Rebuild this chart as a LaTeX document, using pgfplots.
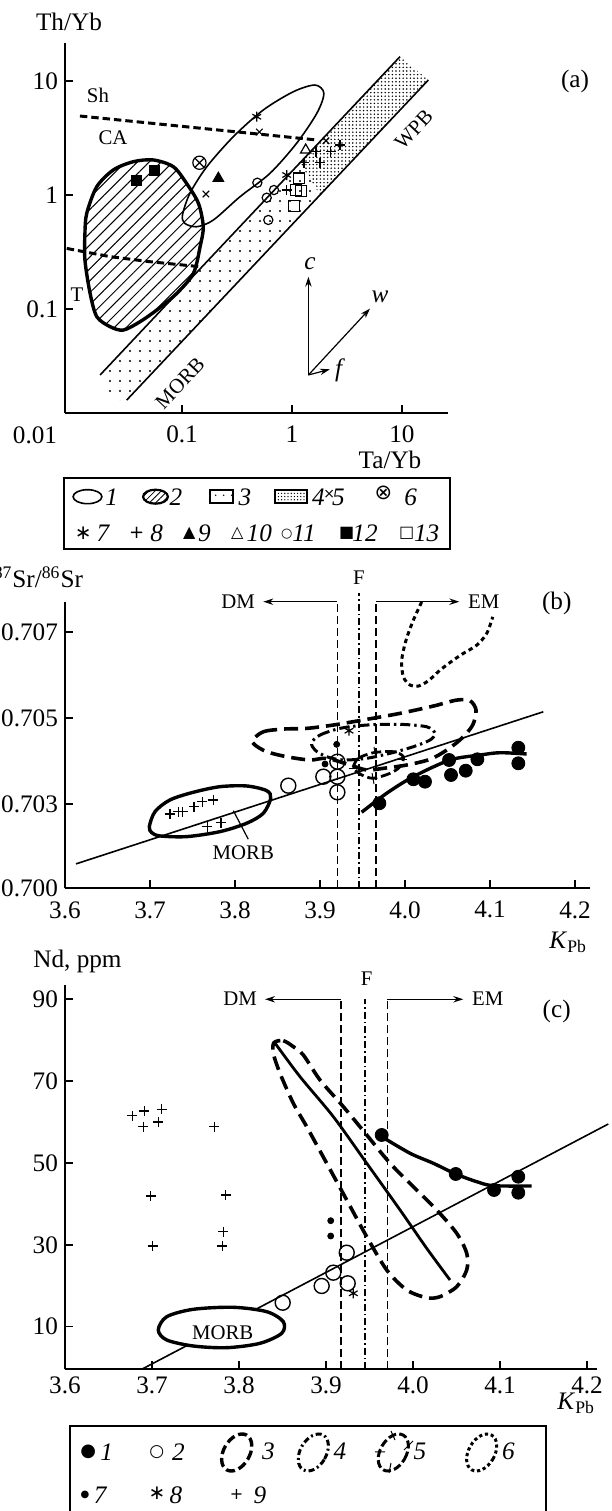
\documentclass[border=0pt]{standalone}
\usepackage{fontspec}
\setmainfont{Liberation Serif}
\newfontfamily\sym{DejaVu Sans}
\usepackage{pgfplots}
\pgfplotsset{compat=1.18}
\usetikzlibrary{patterns.meta,arrows.meta}
\tikzset{
 thickdash/.style={line width=1.8pt, dash pattern=on 7pt off 3.5pt},
 dashdotb/.style={line width=1.5pt, dash pattern=on 5pt off 2pt on 1.2pt off 2pt},
 dotb/.style={line width=1.5pt, dash pattern=on 2.2pt off 1.8pt},
 vdash/.style={line width=0.6pt, dash pattern=on 4pt off 2pt},
 vdashdot/.style={line width=0.6pt, dash pattern=on 3.5pt off 1.5pt on 0.8pt off 1.5pt},
 arr/.style={line width=0.6pt, -{Stealth[length=5pt,width=3.2pt]}},
 ann/.style={font=\fontsize{10.4}{12}\selectfont},
}
\pgfplotsset{
  myax/.style={scale only axis, anchor=south west, axis x line*=bottom, axis y line*=left,
    tick align=inside, major tick length=4pt, minor tick length=0pt, clip=false,
    axis line style={line width=0.9pt}, every tick/.style={line width=0.8pt, black},
    tick label style={font=\fontsize{12.6}{14}\selectfont},
    /pgf/number format/assume math mode=true},
}
\begin{document}
\begin{tikzpicture}[font=\fontsize{12.6}{14}\selectfont]
\useasboundingbox (0,0) rectangle (305.5pt,755.5pt);

% ---------------- panel (a)
\begin{axis}[myax, at={(32.5pt,549pt)}, width=191.5pt, height=185pt,
  xmode=log, ymode=log, xmin=0.00863, xmax=26.2, ymin=0.01225, ymax=21.55,
  xtick={0.1,1,10}, xticklabels={0.1,1,10}, ytick={0.1,1,10}, yticklabels={0.1,1,10},
  xticklabel style={yshift=-3pt}]
\addplot[draw=none, pattern={Dots[distance=5pt,radius=0.55pt]}] coordinates {(0.0185,0.0264)(1.18,1.92)(1.80,1.0)(0.0314,0.0159)(0.0235,0.0159)};
\addplot[draw=none, pattern={Dots[distance=1.8pt,radius=0.42pt]}] coordinates {(1.18,1.92)(9.59,16.35)(17.35,10.2)(1.80,1.0)};
\addplot[line width=0.8pt] coordinates {(0.018,0.0264)(9.59,16.35)};
\addplot[line width=0.8pt] coordinates {(0.0314,0.0159)(17.35,10.2)};
\addplot[line width=1.7pt, smooth cycle, pattern={Lines[angle=45,distance=4.2pt,line width=0.5pt]}] coordinates {
(0.0136,0.69)(0.01676,1.18)(0.02377,1.66)(0.0361,1.96)(0.0549,2.03)(0.0834,1.77)(0.110,1.265)(0.141,0.845)(0.156,0.527)(0.146,0.352)(0.127,0.206)(0.0895,0.137)(0.0589,0.098)(0.0415,0.0774)(0.0293,0.0654)(0.0222,0.070)(0.0168,0.0857)(0.0146,0.137)(0.0131,0.269)(0.0131,0.461)};
\addplot[line width=0.8pt, smooth cycle] coordinates {
(0.101,0.668)(0.118,1.035)(0.168,1.77)(0.293,3.25)(0.548,5.57)(1.03,8.06)(1.62,9.22)(1.95,7.8)(1.68,5.2)(1.10,2.84)(0.631,1.55)(0.337,0.967)(0.193,0.604)(0.136,0.527)(0.106,0.564)};
\addplot[line width=1.5pt, dash pattern=on 3.7pt off 2pt] coordinates {(0.0118,4.93)(1.68,3.04)};
\addplot[line width=1.5pt, dash pattern=on 3.7pt off 2pt] coordinates {(0.00895,0.340)(0.0222,0.288)(0.0512,0.260)(0.146,0.235)};
% points
\addplot[only marks, mark=square*, mark size=2.5pt] coordinates {(0.0382,1.35)(0.0557,1.63)};
\addplot[only marks, line width=0.6pt, mark=otimes, mark size=3.3pt] coordinates {(0.144,1.92)};
\addplot[only marks, mark=triangle*, mark size=3.2pt] coordinates {(0.214,1.40)};
\addplot[only marks, line width=0.6pt, mark=x, mark size=2.3pt] coordinates {(0.165,1.02)(0.505,3.57)(2.038,2.99)};
\addplot[only marks, line width=0.6pt, mark=asterisk, mark size=2.5pt] coordinates {(0.478,4.86)(0.895,1.498)};
\addplot[only marks, line width=0.6pt, mark=+, mark size=2.5pt] coordinates {(1.652,2.40)(2.249,2.40)(1.285,1.92)(1.797,1.92)(2.73,2.746)(0.895,1.106)};
\addplot[only marks, line width=0.6pt, mark=triangle, mark size=3pt] coordinates {(1.332,2.48)};
\addplot[only marks, line width=0.6pt, mark=o, mark size=2.3pt] coordinates {(0.484,1.282)(0.589,0.947)(0.686,1.106)(0.609,0.604)};
\addplot[only marks, line width=0.6pt, mark=square, mark size=2.7pt, mark options={fill=white}] coordinates {(1.158,1.401)(1.087,1.106)(1.207,1.09)(1.049,0.801)};
% vectors
\draw[arr] (axis cs:1.41,0.0264) -- (axis cs:1.41,0.192);
\draw[arr] (axis cs:1.41,0.0264) -- (axis cs:5.12,0.101);
\draw[arr] (axis cs:1.41,0.0264) -- (axis cs:2.21,0.0296);
\node at (axis cs:1.457,0.252) {\textit{c}};
\node at (axis cs:6.3,0.128) {\textit{w}};
\node at (axis cs:2.73,0.0292) {\textit{f}};
\node[ann] at (axis cs:0.0172,7.54) {Sh};
\node[ann] at (axis cs:0.0236,3.16) {CA};
\node[ann] at (axis cs:0.0111,0.1327) {T};
\node[ann, rotate=46.7] at (axis cs:12.8,3.75) {WPB};
\node[ann, rotate=46.7] at (axis cs:0.0959,0.0224) {MORB};
\end{axis}

% ---------------- panel (b)
\begin{axis}[myax, at={(32.5pt,311.35pt)}, width=262.5pt, height=143.3pt,
  xmin=3.6, xmax=4.2176, ymin=0.70105, ymax=0.7077,
  xtick={3.6,3.7,3.8,3.9,4.0,4.1,4.2}, xticklabels={3.6,3.7,3.8,3.9,4.0,4.1,4.2},
  ytick={0.703,0.705,0.707}, yticklabels={0.703,0.705,0.707},
  extra y ticks={0.70105}, extra y tick labels={0.700}, scaled y ticks=false,
  xticklabel style={yshift=-3pt}]
\addplot[vdash] coordinates {(3.9204,0.70105)(3.9204,0.7077)};
\addplot[vdashdot] coordinates {(3.9459,0.70105)(3.9459,0.7079)};
\addplot[vdash] coordinates {(3.9659,0.70105)(3.9659,0.7077)};
\addplot[arr] coordinates {(3.9204,0.7077)(3.8333,0.7077)};
\addplot[arr] coordinates {(3.9659,0.7077)(4.0639,0.7077)};
\addplot[line width=0.8pt] coordinates {(3.6129,0.701616)(4.1627,0.705146)};
\addplot[line width=1.7pt, smooth cycle] coordinates {
(3.6992,0.702481)(3.7059,0.702829)(3.7235,0.703100)(3.7509,0.703278)(3.7824,0.703408)(3.8138,0.703424)(3.8373,0.703315)(3.8420,0.703139)(3.8333,0.702791)(3.8138,0.70256)(3.7824,0.702365)(3.7431,0.702249)(3.7118,0.702265)(3.7020,0.702342)};
\addplot[dotb, smooth] coordinates {
(4.0196,0.707695)(4.0098,0.707271)(4.0012,0.706808)(3.9961,0.706344)(3.9980,0.705957)(4.0059,0.705765)(4.0156,0.705742)(4.0274,0.705864)(4.0412,0.706112)(4.0568,0.706344)(4.0686,0.7065)(4.0844,0.706692)(4.0961,0.706963)(4.1032,0.707348)};
\addplot[thickdash, smooth cycle] coordinates {
(3.8208,0.70449)(3.8333,0.704683)(3.8568,0.704745)(3.8844,0.704761)(3.9156,0.704838)(3.9549,0.70497)(3.9941,0.705109)(4.0333,0.705278)(4.0608,0.705417)(4.0765,0.705401)(4.0835,0.705185)(4.0796,0.704838)(4.0667,0.70453)(4.0491,0.704258)(4.0294,0.704043)(4.0020,0.703911)(3.9745,0.703834)(3.9549,0.703795)(3.9353,0.703911)(3.9079,0.704066)(3.8882,0.704027)(3.8608,0.704103)(3.8373,0.704219)(3.8235,0.704374)};
\addplot[dashdotb, smooth cycle] coordinates {
(3.8902,0.704428)(3.9,0.704606)(3.9235,0.704761)(3.9549,0.704838)(3.9941,0.704854)(4.0255,0.704798)(4.0353,0.704645)(4.0294,0.70449)(4.0098,0.704335)(3.9824,0.704182)(3.9549,0.704066)(3.9274,0.704027)(3.9079,0.704103)(3.8941,0.704258)};
\addplot[line width=1.4pt, dash pattern=on 5pt off 2pt, smooth cycle] coordinates {
(3.9392,0.703871)(3.9451,0.704066)(3.9627,0.704196)(3.9862,0.704219)(3.9980,0.704103)(3.9941,0.703871)(3.9824,0.703718)(3.9627,0.703603)(3.9491,0.703679)(3.9412,0.703795)};
\addplot[line width=0.5pt] coordinates {(3.9635,0.704328)(3.9659,0.704073)};
\addplot[line width=0.5pt] coordinates {(3.9612,0.703725)(3.9635,0.70347)};
\addplot[line width=0.5pt] coordinates {(3.9906,0.704027)(4.0024,0.704027)};
\addplot[line width=0.5pt] coordinates {(3.9341,0.703841)(3.9447,0.703841)};
\addplot[line width=1.7pt, smooth] coordinates {
(3.9490,0.702815)(3.9784,0.703255)(4.0098,0.70364)(4.0529,0.704027)(4.0882,0.704142)(4.1118,0.704196)(4.1431,0.704166)};
\addplot[line width=0.6pt] coordinates {(3.798,0.702852)(3.8156,0.702189)};
\node[ann] at (axis cs:3.8098,0.701878) {MORB};
% points
\addplot[only marks, line width=0.6pt, mark=+, mark size=2.5pt] coordinates {
(3.7235,0.702775)(3.7333,0.702829)(3.7385,0.702829)(3.7518,0.702944)(3.7615,0.70306)(3.7745,0.7031)(3.7674,0.702481)(3.7835,0.702574)};
\addplot[only marks, line width=0.7pt, mark=o, mark size=3.75pt, mark options={fill=white}] coordinates {
(3.8627,0.703431)(3.9204,0.703987)(3.9039,0.70364)(3.9204,0.70364)(3.9204,0.703278)};
\addplot[only marks, mark=*, mark size=1.5pt] coordinates {(3.9196,0.70439)(3.9059,0.703934)};
\addplot[only marks, line width=0.6pt, mark=asterisk, mark size=2.5pt] coordinates {(3.9341,0.704706)};
\addplot[only marks, mark=*, mark size=3.25pt] coordinates {
(3.9698,0.703023)(4.0098,0.703579)(4.0235,0.703524)(4.0518,0.704027)(4.0541,0.703679)(4.0714,0.703779)(4.0851,0.704043)(4.1333,0.704312)(4.1333,0.70395)};
\end{axis}

% ---------------- panel (c)
\begin{axis}[myax, at={(32.5pt,70.85pt)}, width=265.85pt, height=192.15pt,
  xmin=3.6, xmax=4.2111, ymin=-0.41, ymax=93.49,
  xtick={3.6,3.7,3.8,3.9,4.0,4.1,4.2}, xticklabels={3.6,3.7,3.8,3.9,4.0,4.1,4.2},
  ytick={10,30,50,70,90}, yticklabels={10,30,50,70,90}]
\addplot[vdash] coordinates {(3.9172,-0.41)(3.9172,90)};
\addplot[vdashdot] coordinates {(3.9448,-0.41)(3.9448,90)};
\addplot[vdash] coordinates {(3.9705,-0.41)(3.9705,90)};
\addplot[arr] coordinates {(3.9172,90)(3.8299,90)};
\addplot[arr] coordinates {(3.9705,90)(4.0578,90)};
\addplot[line width=0.8pt] coordinates {(3.6882,-0.41)(4.2245,59.53)};
\addplot[line width=1.7pt, smooth cycle, fill=white] coordinates {
(3.7072,9.19)(3.7169,12.44)(3.7475,14.25)(3.7934,14.74)(3.8318,13.67)(3.8509,11.22)(3.8491,8.39)(3.8241,5.94)(3.7859,4.87)(3.7475,5.28)(3.7169,6.75)};
\node[ann] at (axis cs:3.7813,8.53) {MORB};
\addplot[thickdash, smooth cycle] coordinates {
(3.8402,79.4)(3.8509,79.88)(3.8624,78.42)(3.8739,76.39)(3.8931,70.28)(3.9199,63.76)(3.9468,56.84)(3.9736,49.93)(4.0003,44.21)(4.0272,38.52)(4.0502,32.82)(4.0617,27.94)(4.0617,23.85)(4.0502,19.77)(4.0310,17.33)(4.0157,17.09)(3.9928,18.97)(3.9698,23.85)(3.9468,31.99)(3.9238,40.96)(3.9008,49.93)(3.8778,58.87)(3.8624,64.59)(3.8471,71.92)(3.8394,76.81)};
\addplot[line width=1.4pt, smooth] coordinates {
(3.8402,79.64)(3.8701,71.09)(3.9084,61.31)(3.9468,49.93)(3.9851,38.52)(4.0157,29.16)(4.0425,21.41)};
\addplot[line width=1.7pt, smooth] coordinates {
(3.9640,56.43)(3.9966,52.37)(4.0233,49.93)(4.0491,47.31)(4.0732,45.43)(4.0923,44.45)(4.1364,44.38)};
\addplot[only marks, line width=0.6pt, mark=+, mark size=2.5pt] coordinates {
(3.6774,61.56)(3.6911,62.71)(3.7111,63.12)(3.6900,58.87)(3.7072,60.02)(3.7716,58.87)(3.6985,41.94)(3.7847,42.18)(3.7820,33.21)(3.7008,29.72)(3.7808,29.72)};
\addplot[only marks, line width=0.7pt, mark=o, mark size=3.75pt, mark options={fill=white}] coordinates {
(3.8502,15.86)(3.9238,28.08)(3.9084,23.2)(3.8950,19.95)(3.9249,20.6)};
\addplot[only marks, mark=*, mark size=1.5pt] coordinates {(3.9054,35.9)(3.9054,32.16)};
\addplot[only marks, line width=0.6pt, mark=asterisk, mark size=2.5pt] coordinates {(3.9314,18.16)};
\addplot[only marks, mark=*, mark size=3.25pt] coordinates {
(3.9640,56.84)(4.0491,47.31)(4.0931,43.4)(4.1210,46.65)(4.1210,42.74)};
\end{axis}

% ---------------- texts and legends (pixel coordinates)
\begin{scope}[shift={(0,755.5pt)}, x=0.5pt, y=-0.5pt]
\node at (69,21.7) {Th/Yb};
\node at (35,435) {0.01};
\node at (390,460) {Ta/Yb};
\node at (575,81) {(a)};
% legend a
\draw[line width=0.8pt] (64,478.3) rectangle (450,549.3);
\draw[line width=0.8pt] (87.5,496.7) ellipse [x radius=7.2pt, y radius=3.5pt];
\node at (111.7,497) {\textit{1}};
\draw[line width=1.1pt, pattern={Lines[angle=45,distance=2.2pt,line width=0.4pt]}] (155.5,496.7) ellipse [x radius=6.2pt, y radius=3.5pt];
\node at (176,497) {\textit{2}};
\draw[line width=0.6pt, pattern={Dots[distance=4pt,radius=0.45pt]}] (210,490) rectangle (233,503);
\node at (245,497) {\textit{3}};
\draw[line width=0.6pt, pattern={Dots[distance=1.6pt,radius=0.35pt]}] (275,490) rectangle (307,503);
\node at (318.3,497) {\textit{4}};
\node at (329.3,494) {\sym\fontsize{7}{8}\selectfont ×};
\node at (338.3,497) {\textit{5}};
\node at (383.3,493) {\sym\fontsize{10.5}{11}\selectfont ⊗};
\node at (410.7,497) {\textit{6}};
\node at (83.3,533.3) {\sym\fontsize{10}{10}\selectfont ∗};
\node at (103.3,533.3) {\textit{7}};
\node at (136.7,533.3) {\sym\fontsize{9}{10}\selectfont +};
\node at (156.7,533.3) {\textit{8}};
\node at (189.3,533.3) {\sym\fontsize{8}{8}\selectfont ▲};
\node at (204.3,533.3) {\textit{9}};
\node at (237.3,533.3) {\sym\fontsize{8}{8}\selectfont △};
\node at (259.3,533.3) {\textit{10}};
\node at (286.7,534) {\sym\fontsize{6.5}{8}\selectfont ○};
\node at (304,533.3) {\textit{11}};
\node at (346.7,533.3) {\sym\fontsize{8}{8}\selectfont ■};
\node at (365,533.3) {\textit{12}};
\node at (406.7,533.3) {\sym\fontsize{8}{8}\selectfont □};
\node at (426.7,533.3) {\textit{13}};
% panel b texts
\node[anchor=east] at (90,577) {\textsuperscript{87}Sr/\textsuperscript{86}Sr};
\node[ann] at (359,577.3) {F};
\node[ann, anchor=east] at (262,601.7) {DM};
\node[ann, anchor=west] at (461,601.7) {EM};
\node at (556.7,603.3) {(b)};
\node[anchor=east] at (594,942) {\textit{K}\textsubscript{Pb}};
% panel c texts
\node at (77.5,961.7) {Nd, ppm};
\node[ann] at (366.7,979) {F};
\node[ann, anchor=east] at (264,998.3) {DM};
\node[ann, anchor=west] at (465,998.3) {EM};
\node at (556.7,1011.7) {(c)};
\node[anchor=east] at (602,1403) {\textit{K}\textsubscript{Pb}};
% legend c
\draw[line width=0.8pt] (70,1530) -- (70,1426) -- (545.7,1426) -- (545.7,1530);
\node at (88.3,1451.7) {\sym\fontsize{9}{10}\selectfont ●};
\node at (106.7,1451.7) {\textit{1}};
\node at (156.7,1451.7) {\sym\fontsize{8.5}{10}\selectfont ○};
\node at (178.3,1451.7) {\textit{2}};
\draw[line width=1.7pt, dash pattern=on 4.5pt off 2pt, shift={(236.7,1452.5)}, rotate=-30] (0,0) ellipse [x radius=6.5pt, y radius=10pt];
\node at (268.3,1451.7) {\textit{3}};
\draw[line width=1.5pt, dash pattern=on 3pt off 1.5pt on 1pt off 1.5pt, shift={(313.3,1452.5)}, rotate=-30] (0,0) ellipse [x radius=6.5pt, y radius=10pt];
\node at (340,1451.7) {\textit{4}};
\draw[line width=1.5pt, dash pattern=on 4pt off 1.6pt, shift={(393.3,1452.5)}, rotate=-30] (0,0) ellipse [x radius=6.5pt, y radius=10pt];
\draw[line width=0.5pt] (375,1452) -- (385,1452) (391,1431)--(395,1440) (404,1450)--(413,1441) (391,1463)--(389,1473);
\node at (420,1451.7) {\textit{5}};
\draw[line width=1.5pt, dash pattern=on 1.6pt off 1.4pt, shift={(481.7,1452.5)}, rotate=-30] (0,0) ellipse [x radius=6.5pt, y radius=10pt];
\node at (508.3,1451.7) {\textit{6}};
\node at (85,1495) {\sym\fontsize{5}{6}\selectfont ●};
\node at (100.7,1495) {\textit{7}};
\node at (157,1493) {\sym\fontsize{10}{10}\selectfont ∗};
\node at (176,1495) {\textit{8}};
\node at (236.7,1494) {\sym\fontsize{8}{10}\selectfont +};
\node at (260,1495) {\textit{9}};
\end{scope}
\end{tikzpicture}
\end{document}
